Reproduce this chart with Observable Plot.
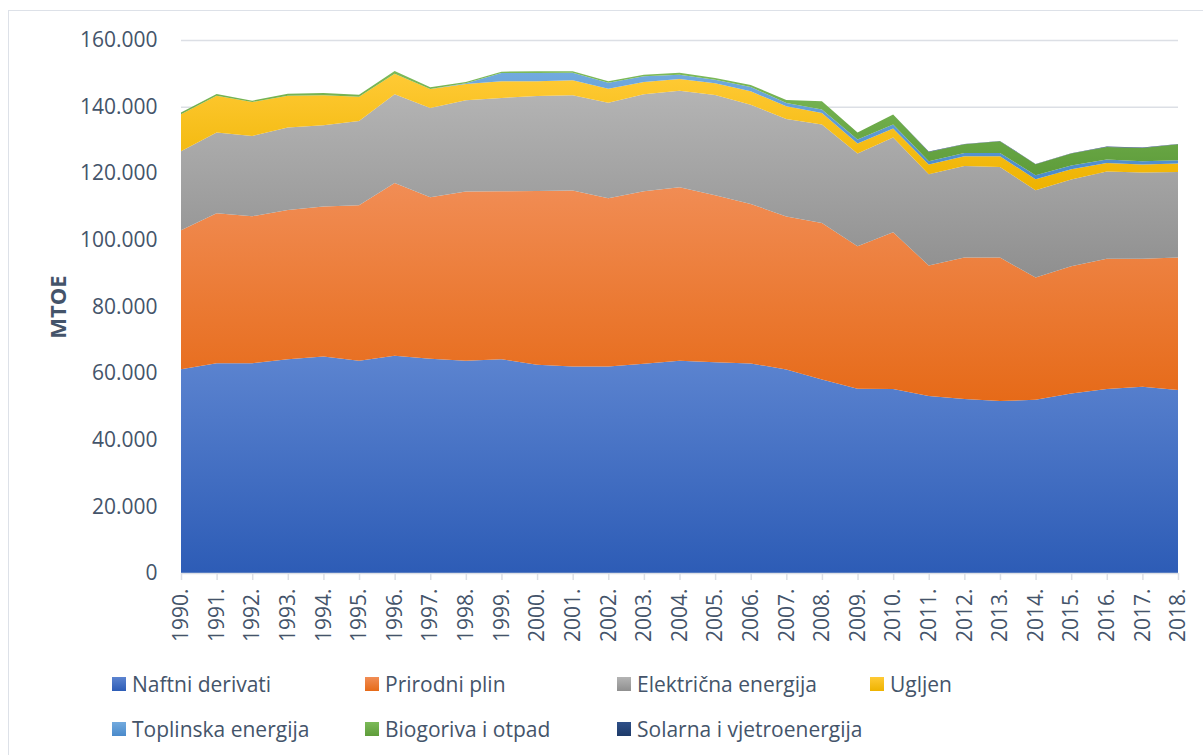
<!DOCTYPE html>
<html><head><meta charset="utf-8">
<script src="https://cdn.jsdelivr.net/npm/d3@7"></script>
<script src="https://cdn.jsdelivr.net/npm/@observablehq/plot@0.6"></script>
<style>
body{margin:0;background:#fff;font-family:"Open Sans",sans-serif;}
#wrap{position:relative;width:1203px;height:755px;overflow:hidden;background:#fff;}
#frame{position:absolute;left:8px;top:10px;width:1230px;height:790px;border:1.5px solid #dde1e8;box-sizing:border-box;pointer-events:none}
#chart{position:absolute;left:0;top:0;}
#ylab{position:absolute;left:57px;top:307px;transform:translate(-50%,-50%) rotate(-90deg);font-weight:700;font-size:22px;color:#44546A;white-space:nowrap;}
.li{position:absolute;display:flex;align-items:center;height:28px;font-size:21px;color:#44546A;white-space:nowrap;}
.li span.m{display:inline-block;width:14px;height:14px;margin-right:6px;}
</style>
</head><body>
<div id="wrap"><div id="chart"></div><div id="ylab">MTOE</div><div id="legend"></div><div id="frame"></div></div>
<script>
const years = [1990,1991,1992,1993,1994,1995,1996,1997,1998,1999,2000,2001,2002,2003,2004,2005,2006,2007,2008,2009,2010,2011,2012,2013,2014,2015,2016,2017,2018];
const seriesNames = ["Naftni derivati","Prirodni plin","Električna energija","Ugljen","Toplinska energija","Biogoriva i otpad","Solarna i vjetroenergija"];
const naftni     = [61.2,63.0,63.0,64.2,65.0,63.7,65.2,64.3,63.7,64.2,62.5,62.0,62.0,62.8,63.7,63.3,62.9,61.1,58.1,55.3,55.2,53.1,52.2,51.6,52.0,53.9,55.2,55.9,54.9];
const prirodni   = [41.7,45.0,44.1,44.8,45.0,46.7,51.9,48.5,50.8,50.4,52.2,52.8,50.5,51.8,52.1,50.1,47.9,45.9,47.0,42.8,47.1,39.2,42.5,43.1,36.7,38.2,39.1,38.4,39.8];
const elektricna = [23.7,24.2,24.1,24.7,24.4,25.3,26.6,26.8,27.4,28.0,28.5,28.6,28.7,29.1,29.0,30.1,29.8,29.3,29.5,27.8,28.4,27.4,27.5,27.2,26.2,26.0,26.2,25.9,25.7];
const ugljen     = [11.1,11.1,10.2,9.6,9.0,7.3,6.2,5.7,4.9,5.0,4.4,4.5,4.2,3.7,3.5,3.5,4.0,3.8,3.5,3.0,2.7,2.9,2.9,3.2,3.3,3.1,2.6,2.4,2.5];
const toplinska  = [0,0,0,0,0,0,0,0,0.2,2.5,2.5,2.3,1.8,1.7,1.3,1.1,1.3,1.0,1.0,1.2,1.2,1.0,1.0,1.0,1.2,1.1,1.0,1.0,1.0];
const biogoriva  = [0.5,0.5,0.4,0.6,0.7,0.6,0.8,0.5,0.4,0.4,0.5,0.4,0.4,0.5,0.6,0.5,0.6,0.9,2.5,2.1,3.0,2.8,2.6,3.5,3.3,3.6,3.8,4.0,4.8];
const solarna    = [0,0,0,0,0,0,0,0,0,0,0,0,0,0,0,0,0,0,0,0,0,0.1,0.1,0.1,0.1,0.1,0.1,0.1,0.1];
const yTicks = [0,20,40,60,80,100,120,140,160];
const yTickLabels = ["0","20.000","40.000","60.000","80.000","100.000","120.000","140.000","160.000"];
const xTickLabels = years.map(y => y + ".");

const seriesValues = [naftni, prirodni, elektricna, ugljen, toplinska, biogoriva, solarna];
const gradStops = [
  ["#5c84d0","#2d5cb6"],
  ["#f18d55","#e66a18"],
  ["#b4b4b4","#8f8f8f"],
  ["#ffca35","#eeb300"],
  ["#72aade","#4a8acb"],
  ["#7cba59","#5e9c3a"],
  ["#2e4f88","#1e3a69"]
];
const data = [];
seriesNames.forEach((s, i) => years.forEach((y, j) => data.push({year: y, series: s, value: seriesValues[i][j]})));

const textColor = "#44546A";
const gridColor = "#dcdfe5";

const chart = Plot.plot({
  width: 1203,
  height: 660,
  marginLeft: 181,
  marginRight: 25,
  marginTop: 40,
  marginBottom: 87,
  style: {fontFamily: "Open Sans", fontSize: "21px", color: textColor, background: "transparent"},
  x: {domain: [1990, 2018], type: "linear"},
  y: {domain: [0, 160]},
  color: {domain: seriesNames, range: seriesNames.map((s, i) => `url(#grad${i})`), type: "ordinal"},
  marks: [
    Plot.ruleY(yTicks.filter(d => d > 0), {stroke: gridColor, strokeWidth: 1.5}),
    Plot.areaY(data, {x: "year", y: "value", fill: "series", z: "series", order: seriesNames}),
    Plot.ruleY([0], {stroke: gridColor, strokeWidth: 1.5}),
    Plot.axisY({ticks: yTicks, tickFormat: d => yTickLabels[yTicks.indexOf(d)], tickSize: 0, tickPadding: 24, fill: textColor, label: null}),
    Plot.axisX({ticks: years, tickFormat: d => xTickLabels[years.indexOf(d)], tickRotate: -90, tickSize: 7, tickPadding: 8, stroke: gridColor, strokeWidth: 1.5, fill: textColor, label: null})
  ]
});

const ns = "http://www.w3.org/2000/svg";
const defs = document.createElementNS(ns, "defs");
gradStops.forEach((st, i) => {
  const g = document.createElementNS(ns, "linearGradient");
  g.setAttribute("id", "grad" + i);
  g.setAttribute("x1", "0"); g.setAttribute("y1", "0");
  g.setAttribute("x2", "0"); g.setAttribute("y2", "1");
  [[0, st[0]], [1, st[1]]].forEach(([o, c]) => {
    const s = document.createElementNS(ns, "stop");
    s.setAttribute("offset", o);
    s.setAttribute("stop-color", c);
    g.appendChild(s);
  });
  defs.appendChild(g);
});
chart.insertBefore(defs, chart.firstChild);
document.getElementById("chart").appendChild(chart);

const legend = document.getElementById("legend");
const cols = [112, 365, 617, 870];
seriesNames.forEach((s, i) => {
  const row = Math.floor(i / 4), col = i % 4;
  const d = document.createElement("div");
  d.className = "li";
  d.style.left = cols[col] + "px";
  d.style.top = (row === 0 ? 684 : 729) - 14 + "px";
  d.innerHTML = `<span class="m" style="background:linear-gradient(${gradStops[i][0]},${gradStops[i][1]})"></span>${s}`;
  legend.appendChild(d);
});
</script>
</body></html>
